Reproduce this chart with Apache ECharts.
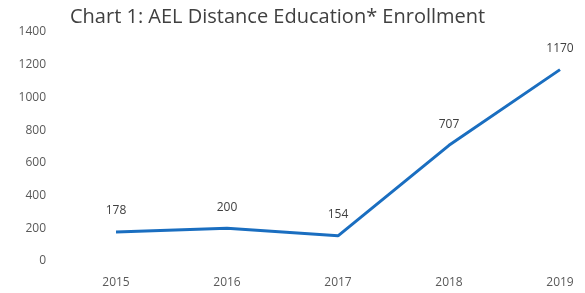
<!DOCTYPE html>
<html>
<head>
<meta charset="utf-8">
<script src="https://cdn.jsdelivr.net/npm/echarts@6/dist/echarts.min.js"></script>
<style>
  html, body { margin: 0; padding: 0; background: #fff; }
  #chart { width: 585px; height: 293px; }
</style>
</head>
<body>
<div id="chart"></div>
<script>
var years = ['2015', '2016', '2017', '2018', '2019']
var enrollment = [178, 200, 154, 707, 1170]
var yTicks = { min: 0, max: 1400, interval: 200 }

var chart = echarts.init(document.getElementById('chart'))
chart.setOption({
  animation: false,
  title: {
    text: 'Chart 1: AEL Distance Education* Enrollment',
    left: 70,
    top: 7,
    padding: 0,
    textStyle: {
      fontFamily: 'Open Sans',
      fontWeight: 'normal',
      fontSize: 20,
      color: '#404040'
    }
  },
  grid: {
    left: 116,
    right: 25,
    top: 32,
    bottom: 32
  },
  xAxis: {
    type: 'category',
    data: years,
    boundaryGap: false,
    axisLine: { show: false },
    axisTick: { show: false },
    axisLabel: {
      margin: 16,
      fontFamily: 'Open Sans',
      fontSize: 12,
      color: '#595959'
    }
  },
  yAxis: {
    type: 'value',
    min: yTicks.min,
    max: yTicks.max,
    interval: yTicks.interval,
    splitLine: { show: false },
    axisLine: { show: false },
    axisTick: { show: false },
    axisLabel: {
      margin: 70,
      formatter: function (v) { return String(v) },
      fontFamily: 'Open Sans',
      fontSize: 12,
      color: '#595959'
    }
  },
  series: [
    {
      type: 'line',
      data: enrollment,
      symbol: 'circle',
      symbolSize: 2,
      showSymbol: true,
      itemStyle: { color: 'transparent', borderWidth: 0 },
      lineStyle: { color: '#1a6ec0', width: 3 },
      label: {
        show: true,
        position: 'top',
        distance: 14,
        fontFamily: 'Open Sans',
        fontSize: 12,
        color: '#404040'
      }
    }
  ]
})
</script>
</body>
</html>
